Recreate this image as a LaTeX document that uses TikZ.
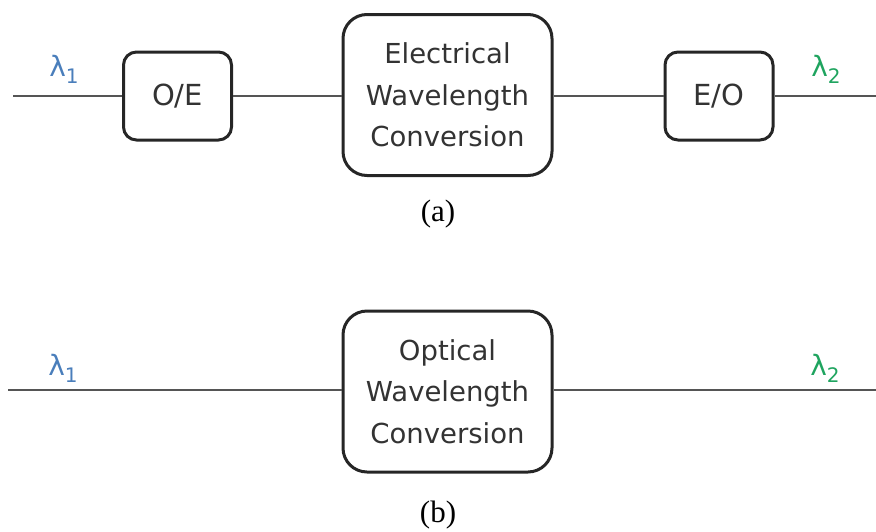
\documentclass[tikz,border=0pt]{standalone}
\usepackage{fontspec}
\setmainfont{DejaVu Sans}
\newfontfamily\capfont{Liberation Serif}
\definecolor{lamblue}{HTML}{4A7EBB}
\definecolor{lamgreen}{HTML}{1FA45F}
\definecolor{boxline}{HTML}{262626}
\definecolor{wire}{HTML}{555555}
\definecolor{txt}{HTML}{333333}
\begin{document}
\begin{tikzpicture}[x=1pt,y=-1pt,
  smallbox/.style={draw=boxline, line width=3pt, rounded corners=13pt, minimum width=108pt, minimum height=88pt, inner sep=0pt, text=txt, font=\fontsize{29}{41.5}\selectfont},
  bigbox/.style={draw=boxline, line width=3pt, rounded corners=24pt, minimum width=209pt, minimum height=161pt, inner sep=0pt, align=center, text=txt, font=\fontsize{27.5}{41.5}\selectfont},
  wireline/.style={draw=wire, line width=1.3pt},
  lam/.style={inner sep=0pt, font=\fontsize{28}{28}\selectfont},
  caption/.style={inner sep=0pt, font=\capfont\fontsize{31}{31}\selectfont, text=black}]
\useasboundingbox (0,0) rectangle (876,531);
% (a)
\coordinate (ain) at (13,96);
\coordinate (aout) at (876,96);
\node[smallbox] (oe) at (177.5,96) {O/E};
\node[bigbox] (elec) at (447.5,95) {Electrical\\Wavelength\\Conversion};
\node[smallbox] (eo) at (719,96) {E/O};
\draw[wireline] (ain) -- (oe.west);
\draw[wireline] (oe.east) -- (oe.east -| elec.west);
\draw[wireline] (eo.west -| elec.east) -- (eo.west);
\draw[wireline] (eo.east) -- (aout);
\node[lam, text=lamblue] (l1a) at (64,69) {λ\raisebox{-7pt}{\fontsize{20}{20}\selectfont 1}};
\node[lam, text=lamgreen] (l2a) at (826,69) {λ\raisebox{-7pt}{\fontsize{20}{20}\selectfont 2}};
\node[caption] (capa) at (438,214) {(a)};
% (b)
\coordinate (bin) at (8,390);
\coordinate (bout) at (876,390);
\node[bigbox] (opt) at (447.5,391.5) {Optical\\Wavelength\\Conversion};
\draw[wireline] (bin) -- (bin -| opt.west);
\draw[wireline] (bout -| opt.east) -- (bout);
\node[lam, text=lamblue] (l1b) at (63,368) {λ\raisebox{-7pt}{\fontsize{20}{20}\selectfont 1}};
\node[lam, text=lamgreen] (l2b) at (825,368) {λ\raisebox{-7pt}{\fontsize{20}{20}\selectfont 2}};
\node[caption] (capb) at (438,515) {(b)};
\end{tikzpicture}
\end{document}
